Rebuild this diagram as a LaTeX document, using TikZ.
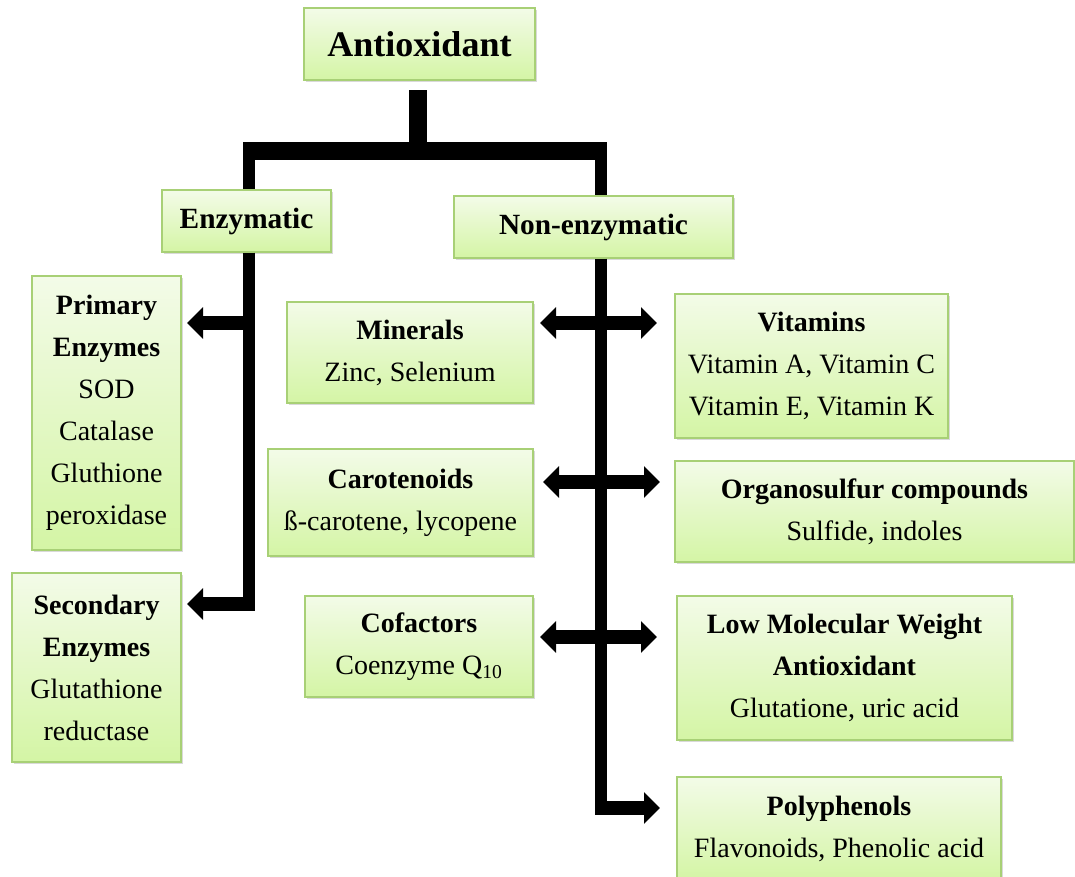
\documentclass[tikz,border=0pt]{standalone}
\usepackage{fontspec}
\setmainfont{Liberation Serif}
\usetikzlibrary{arrows.meta,shadows}
\definecolor{boxtop}{RGB}{243,251,232}
\definecolor{boxbot}{RGB}{212,245,165}
\definecolor{boxline}{RGB}{168,208,118}

\begin{document}
\begin{tikzpicture}[x=0.75pt, y=-0.75pt,
	box/.style={draw=boxline, line width=0.9pt, top color=boxtop, bottom color=boxbot,
		align=center, inner sep=0pt, font=\fontsize{21}{31.5}\selectfont,
		drop shadow={opacity=0.3, shadow xshift=1.5pt, shadow yshift=-1.5pt}},
	sz/.style 2 args={minimum width=#1*0.75pt, minimum height=#2*0.75pt},
	trunk/.style={line width=9pt},
	hubbar/.style={line width=13.5pt},
	arr/.style={line width=11pt, -{Triangle[width=23pt, length=12pt]}},
	darr/.style={line width=11pt, {Triangle[width=23pt, length=12pt]}-{Triangle[width=23pt, length=12pt]}}
]
	\useasboundingbox (0,0) rectangle (1075,876);

	% top and the two branches
	\node[box, sz={231}{72}, font=\fontsize{27}{32}\selectfont\bfseries] (antiox) at (419.5,44) {Antioxidant};
	\node[box, sz={169}{62}, font=\fontsize{22}{28}\selectfont\bfseries] (enzym) at (246.5,221) {Enzymatic};
	\node[box, sz={279}{62}, font=\fontsize{22}{28}\selectfont\bfseries] (nonenz) at (593.5,227) {Non-enzymatic};

	% enzymatic side
	\node[box, sz={149}{274}] (primary) at (106.5,413) {\textbf{Primary}\\\textbf{Enzymes}\\SOD\\Catalase\\Gluthione\\peroxidase};
	\node[box, sz={169}{189}] (secondary) at (96.5,667.5) {\textbf{Secondary}\\\textbf{Enzymes}\\Glutathione\\reductase};

	% non-enzymatic, left column
	\node[box, sz={246}{101}] (minerals) at (410,352.5) {\textbf{Minerals}\\Zinc, Selenium};
	\node[box, sz={265}{107}] (carot) at (400.5,502.5) {\textbf{Carotenoids}\\ß-carotene, lycopene};
	\node[box, sz={228}{101}] (cofac) at (419,646.5) {\textbf{Cofactors}\\Coenzyme Q\textsubscript{10}};

	% non-enzymatic, right column
	\node[box, sz={273}{144}] (vitamins) at (811.5,366) {\textbf{Vitamins}\\Vitamin A, Vitamin C\\Vitamin E, Vitamin K};
	\node[box, sz={399}{101}] (organo) at (874.5,511.5) {\textbf{Organosulfur compounds}\\Sulfide, indoles};
	\node[box, sz={335}{144}] (lmw) at (844.5,668) {\textbf{Low Molecular Weight}\\\textbf{Antioxidant}\\Glutatione, uric acid};
	\node[box, sz={324}{103}] (polyph) at (839,828.5) {\textbf{Polyphenols}\\Flavonoids, Phenolic acid};

	% hub
	\coordinate (hub) at (418,151);
	\coordinate (eL) at (249,151);
	\coordinate (nR) at (601,151);
	\draw[hubbar] (hub |- 0,90) -- (hub);
	\draw[hubbar] ([xshift=-4.5pt]eL) -- ([xshift=4.5pt]nR);
	\draw[trunk] (eL) -- (eL |- enzym.north);
	\draw[trunk] (nR) -- (nR |- nonenz.north);

	% enzymatic trunk
	\coordinate (e1) at (187,323);
	\coordinate (e2) at (187,604);
	\draw[trunk] (eL |- enzym.south) -- (249,611);
	\draw[arr] (254,323) -- (e1);
	\draw[arr] (254,604) -- (e2);

	% non-enzymatic trunk
	\coordinate (m1) at (540,323);  \coordinate (m2) at (657,323);
	\coordinate (c1) at (543,482);  \coordinate (c2) at (660,482);
	\coordinate (f1) at (540,637);  \coordinate (f2) at (657,637);
	\coordinate (p1) at (660,808);
	\draw[trunk] (nR |- nonenz.south) -- (601,815);
	\draw[darr] (m1) -- (m2);
	\draw[darr] (c1) -- (c2);
	\draw[darr] (f1) -- (f2);
	\draw[arr] (595,808) -- (p1);
\end{tikzpicture}
\end{document}
